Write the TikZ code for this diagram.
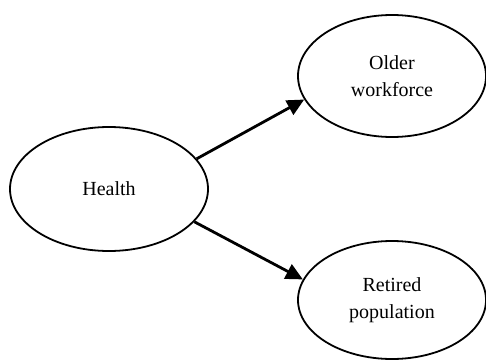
\documentclass[tikz,border=0pt]{standalone}
\usepackage{fontspec}
\setmainfont{Liberation Serif}
\usetikzlibrary{shapes.geometric,arrows.meta}
\begin{document}
\begin{tikzpicture}[x=1pt,y=-1pt,
  oval/.style={ellipse,draw=black,line width=1.8pt,inner sep=0pt,align=center,
    font=\fontsize{20}{27}\selectfont},
  link/.style={line width=2.8pt,-{Triangle[length=17pt,width=16pt]}}]
\useasboundingbox (0,0) rectangle (486,361);
\node[oval,minimum width=198pt,minimum height=124pt] (health) at (109,189) {Health};
\node[oval,minimum width=188pt,minimum height=122pt] (older) at (392,76) {Older\\workforce};
\node[oval,minimum width=188pt,minimum height=118pt] (retired) at (392,300) {Retired\\population};
\draw[link] (health.19) -- (older.195);
\draw[link] (health.-21) -- (retired.167);
\end{tikzpicture}
\end{document}
